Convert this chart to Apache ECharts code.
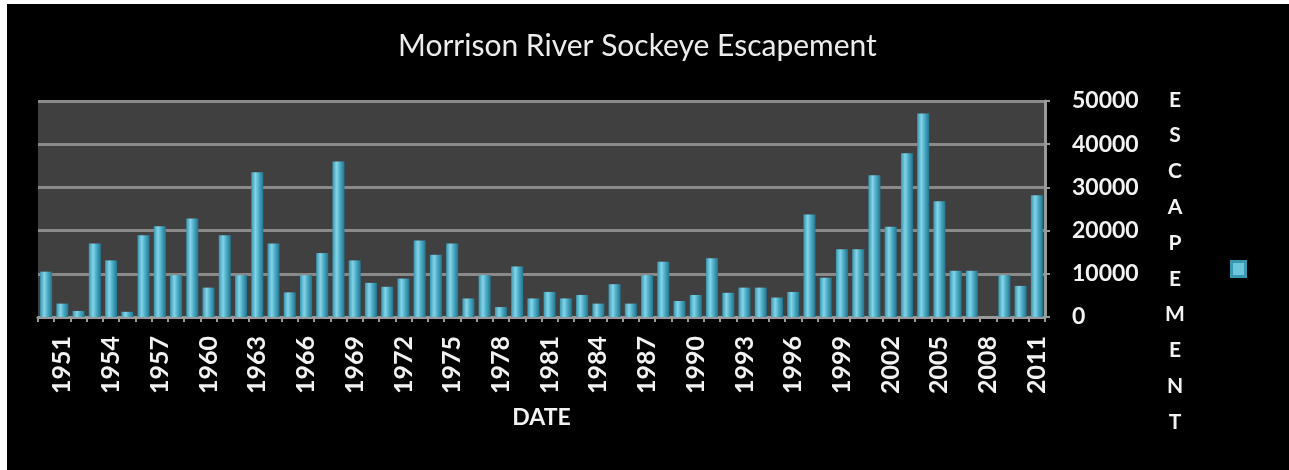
<!DOCTYPE html>
<html>
<head>
<meta charset="utf-8">
<script src="https://cdn.jsdelivr.net/npm/echarts@6/dist/echarts.min.js"></script>
<style>
html,body{margin:0;padding:0;background:#ffffff;width:1289px;height:470px;overflow:hidden;}
#chart{position:absolute;left:7px;top:4px;width:1282px;height:466px;background:#000000;}
</style>
</head>
<body>
<div id="chart"></div>
<script>
const titleText = 'Morrison River Sockeye Escapement';
const xName = 'DATE';
const yName = 'ESCAPEMENT';
const years = ['1950','1951','1952','1953','1954','1955','1956','1957','1958','1959',
  '1960','1961','1962','1963','1964','1965','1966','1967','1968','1969',
  '1970','1971','1972','1973','1974','1975','1976','1977','1978','1979',
  '1980','1981','1982','1983','1984','1985','1986','1987','1988','1989',
  '1990','1991','1992','1993','1994','1995','1996','1997','1998','1999',
  '2000','2001','2002','2003','2004','2005','2006','2007','2008','2009',
  '2010','2011'];
const escapement = [10500,3100,1400,17000,13100,1200,18900,21000,9700,22800,
  6800,18900,9700,33500,17000,5700,9700,14800,36000,13100,
  7900,7000,8900,17700,14400,17000,4300,9700,2300,11700,
  4300,5800,4300,5100,3100,7600,3100,9700,12800,3700,
  5100,13600,5600,6800,6800,4500,5800,23700,9100,15700,
  15700,32800,20900,37900,47100,26800,10700,10700,0,9700,
  7200,28200];
const yTicks = [0,10000,20000,30000,40000,50000];

const chart = echarts.init(document.getElementById('chart'));
const font = 'Lato, "Open Sans", sans-serif';
chart.setOption({
  backgroundColor: '#000000',
  animation: false,
  title: {
    text: titleText,
    left: 391, top: 27, padding: 0,
    textStyle: {color: '#ececec', fontFamily: font, fontSize: 30, fontWeight: 'normal'}
  },
  legend: {
    data: [yName],
    left: 1223, top: 256, padding: 0,
    itemWidth: 14, itemHeight: 15, icon: 'rect',
    formatter: function(){ return ''; },
    itemStyle: {color: '#6cc6dc', borderColor: '#3a98b2', borderWidth: 3}
  },
  graphic: [{
    type: 'text',
    left: 1158, top: 78,
    style: {
      text: yName.split('').join('\n'),
      fill: '#f2f2f2',
      font: 'bold 21px ' + font,
      lineHeight: 35.8,
      textAlign: 'center',
      width: 20
    }
  }],
  grid: {
    left: 31, right: 244, top: 97, bottom: 153,
    show: true, backgroundColor: '#404040', borderWidth: 0
  },
  xAxis: {
    type: 'category',
    data: years,
    name: xName,
    nameLocation: 'middle',
    nameGap: 101,
    nameTextStyle: {color: '#f2f2f2', fontFamily: font, fontSize: 23, fontWeight: 'bold', verticalAlign: 'middle'},
    axisLine: {show: true, lineStyle: {color: '#9a9a9a', width: 3}},
    axisTick: {show: true, alignWithLabel: false, interval: 0, length: 5, lineStyle: {color: '#9a9a9a', width: 2}},
    axisLabel: {
      interval: function(i){ return i % 3 === 1; },
      rotate: 90, margin: 19,
      color: '#f2f2f2', fontFamily: font, fontSize: 25, fontWeight: 'bold'
    },
    splitLine: {show: false}
  },
  yAxis: {
    type: 'value',
    position: 'right',
    min: yTicks[0], max: yTicks[yTicks.length - 1], interval: 10000,
    axisLine: {show: true, lineStyle: {color: '#9a9a9a', width: 3}},
    axisTick: {show: true, inside: false, length: 5, lineStyle: {color: '#9a9a9a', width: 2}},
    axisLabel: {margin: 27, color: '#f2f2f2', fontFamily: font, fontSize: 23, fontWeight: 'bold',
      formatter: function(v){ return String(v); }},
    splitLine: {show: true, lineStyle: {color: '#8a8a8a', width: 3}}
  },
  series: [{
    name: yName,
    type: 'bar',
    data: escapement,
    barWidth: 12,
    itemStyle: {
      color: new echarts.graphic.LinearGradient(0, 0, 1, 0, [
        {offset: 0, color: '#3797b1'},
        {offset: 0.35, color: '#86d4e8'},
        {offset: 0.6, color: '#4fb0ca'},
        {offset: 1, color: '#23748d'}
      ])
    }
  }]
});
</script>
</body>
</html>
